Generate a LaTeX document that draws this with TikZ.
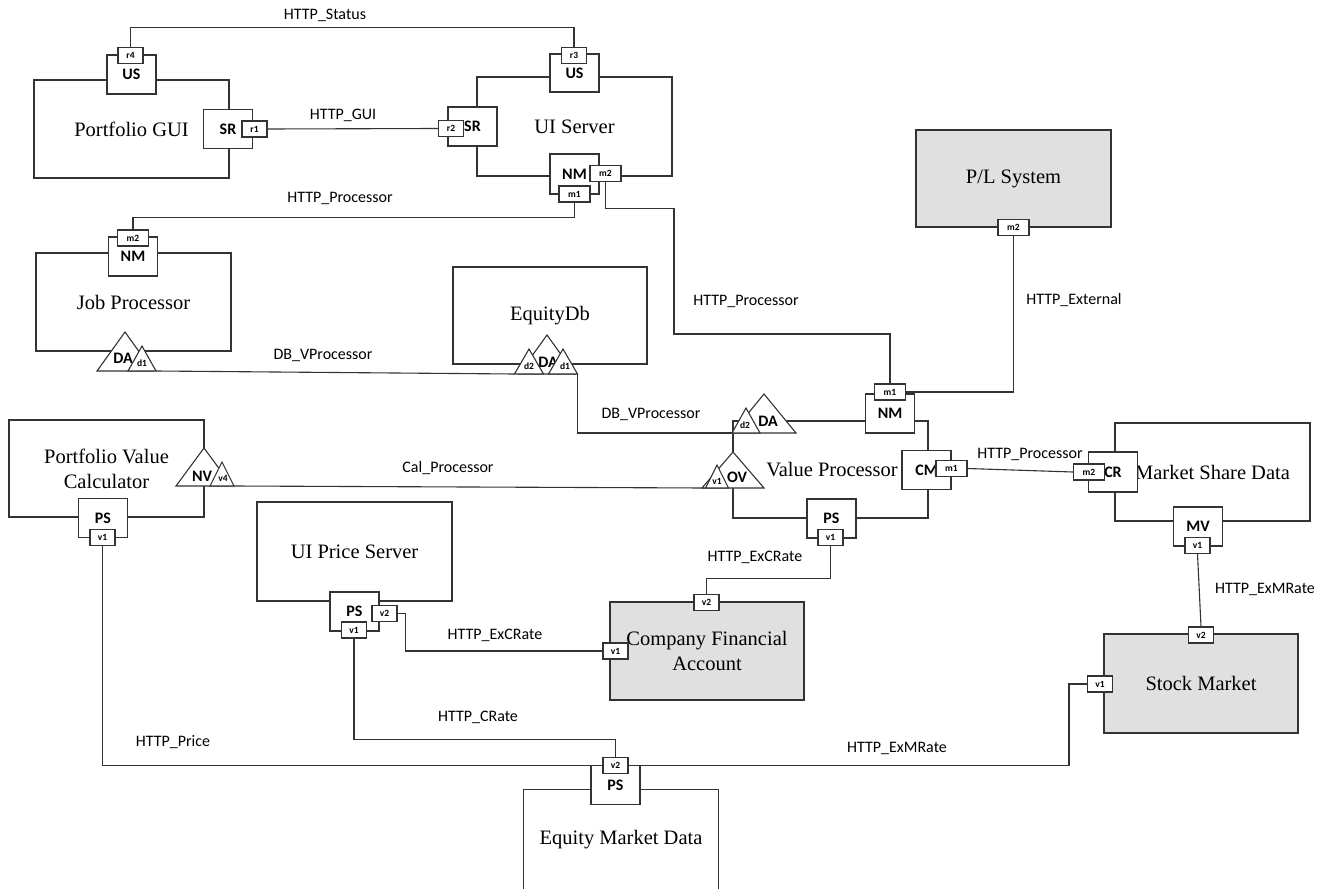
\documentclass[tikz,border=0pt]{standalone}
\usepackage{fontspec}
\setmainfont{Liberation Serif}
\newfontfamily\calfont{Carlito}
\newcommand\mytri[4]{\draw[tri] (#1,#2) -- ++(#3,#4) -- ++({-2*#3},0) -- cycle;}
\tikzset{
 ln/.style={draw=black!80, line width=1.1pt},
 comp/.style={ln, inner sep=0pt, minimum width=195pt, minimum height=98pt, align=center, font=\fontsize{20.5}{25}\selectfont},
 ext/.style={comp, fill=black!12},
 port/.style={ln, fill=white, inner sep=0pt, minimum width=49pt, minimum height=39pt, font=\calfont\bfseries\fontsize{16}{18}\selectfont},
 tag/.style={ln, fill=white, inner sep=0pt, minimum width=25pt, minimum height=16pt, font=\calfont\bfseries\fontsize{9.5}{10}\selectfont},
 wtag/.style={tag, minimum width=31pt},
 conn/.style={ln},
 clab/.style={font=\calfont\fontsize{16}{18}\selectfont, inner sep=0pt},
 tri/.style={ln, fill=white, line join=miter},
 blab/.style={font=\calfont\bfseries\fontsize{16}{18}\selectfont, inner sep=0pt},
 slab/.style={font=\calfont\bfseries\fontsize{9.5}{10}\selectfont, inner sep=0pt},
}
\begin{document}
\begin{tikzpicture}[x=1pt,y=-1pt]
\fill[white] (0,0) rectangle (1332,888);
\useasboundingbox (0,0) rectangle (1332,888);

% components
\node[comp] (pgui) at (131.5,129) {Portfolio GUI};
\node[comp, minimum height=99pt] (uis) at (574.5,126.5) {UI Server};
\node[comp] (job) at (133.5,302) {Job Processor};
\node[comp, minimum width=194pt, minimum height=97pt] (edb) at (550,315.5) {EquityDb};
\node[ext, minimum height=97pt] (pl) at (1013.5,178.5) {P/L System};
\node[comp, minimum height=97pt] (pvc) at (106.5,468.5) {Portfolio Value\\Calculator};
\node[comp, minimum height=97pt] (vp) at (830.5,469.5) {};
\node[font=\fontsize{20.5}{25}\selectfont, inner sep=0pt] (vplab) at (832,470) {Value Processor};
\node[comp] (msd) at (1212.5,472) {Market Share Data};
\node[comp, minimum height=99pt] (uips) at (354.5,551.5) {UI Price Server};
\node[ext, minimum width=194pt] (cfa) at (707,651) {Company Financial\\Account};
\node[ext, minimum width=194pt, minimum height=99pt] (sm) at (1201,683.5) {Stock Market};
\node[inner sep=0pt, minimum width=194pt, minimum height=100pt, font=\fontsize{20.5}{25}\selectfont] (emd) at (621,840) {Equity Market Data};
\draw[ln] (emd.south west) -- (emd.north west) -- (emd.north east) -- (emd.south east);

% connector corner coordinates
\coordinate (hpA) at (674,334);
\coordinate (jd1r) at (156,371);
\coordinate (ed2l) at (514.5,374);
\coordinate (ed1r) at (577.5,374);
\coordinate (vd2l) at (732,433);
\coordinate (v4r) at (234,486);
\coordinate (ov1l) at (705.5,488);

% ports
\node[port] (pgus) at (131.5,74.5) {US};
\node[tag] (r4) at (130.5,55.5) {r4};
\node[port] (pgsr) at (228,129) {SR};
\node[tag] (r1) at (254.5,129) {r1};
\node[port, minimum height=38pt] (uius) at (574.5,73) {US};
\node[tag] (r3) at (574,55.5) {r3};
\node[port] (uisr) at (472.5,126.5) {SR};
\node[tag] (r2) at (451,128.5) {r2};
\node[port, minimum height=40pt] (uinm) at (574.5,174) {NM};
\node[wtag] (uim2) at (605.5,173.5) {m2};
\node[wtag] (uim1) at (574.5,194) {m1};
\node[port] (jnm) at (133,256.5) {NM};
\node[wtag] (jm2) at (133,238) {m2};
\node[port] (vpnm) at (890,413.5) {NM};
\node[wtag] (vpm1) at (890,392) {m1};
\node[port] (vpcm) at (926.5,470) {CM};
\node[wtag] (cmm1) at (951.5,468.5) {m1};
\node[port] (vpps) at (831.5,518.5) {PS};
\node[tag] (vpv1) at (830.5,537.5) {v1};
\node[port, minimum height=40pt] (mscr) at (1113,472) {CR};
\node[wtag] (crm2) at (1089,472) {m2};
\node[port] (msmv) at (1198,526.5) {MV};
\node[tag] (mvv1) at (1197.5,545.5) {v1};
\node[wtag] (plm2) at (1013.5,227.5) {m2};
\node[tag] (cfav2) at (706.5,602.5) {v2};
\node[tag] (cfav1) at (615.5,651) {v1};
\node[tag] (smv2) at (1201,635) {v2};
\node[tag] (smv1) at (1100,684) {v1};
\node[port] (uipsps) at (354.5,611.5) {PS};
\node[tag] (uipsv2) at (384.5,613.5) {v2};
\node[tag] (uipsv1) at (354,630) {v1};
\node[port] (pvcps) at (103,518) {PS};
\node[tag] (pvcv1) at (102.5,537.5) {v1};
\node[port] (emdps) at (615.5,785) {PS};
\node[tag] (emdv2) at (615.5,765.5) {v2};

% connectors
\draw[conn] (r4.north) -- ++(0,-19) -| (r3.north);
\draw[conn] (r1.east) -- (r2.west);
\draw[conn] (uim1.south) -- ++(0,15) -| (jm2.north);
\draw[conn] (uim2.south) -- ++(0,26) -| (hpA) -| (vpm1.north);
\draw[conn] (plm2.south) |- (vpm1.east);
\draw[conn] (jd1r) -- (ed2l);
\draw[conn] (ed1r) |- (vd2l);
\draw[conn] (v4r) -- (ov1l);
\draw[conn] (cmm1.east) -- (crm2.west);
\draw[conn] (mvv1.south) -- (smv2.north);
\draw[conn] (vpv1.south) -- ++(0,32) -| (cfav2.north);
\draw[conn] (uipsv2.east) -- ++(8,0) |- (cfav1.west);
\draw[conn] (uipsv1.south) -- ++(0,101) -| (emdv2.north);
\draw[conn] (pvcv1.south) |- (emdv2.west);
\draw[conn] (smv1.west) -- ++(-18,0) |- (emdv2.east);

% triangles: Job Processor
\mytri{125}{332}{28}{39}
\node[blab] (jda) at (123,358) {DA};
\mytri{142}{346}{14}{25}
\node[slab] (jd1) at (142,363) {d1};
% EquityDb
\mytri{547}{335}{28}{39}
\node[blab] (eda) at (548,362) {DA};
\mytri{529}{349}{14.5}{25}
\node[slab] (ed2) at (529,366) {d2};
\mytri{563}{349}{14.5}{25}
\node[slab] (ed1) at (565,366) {d1};
% Value Processor DA
\mytri{764}{394}{32}{39}
\node[blab] (vda) at (768,421) {DA};
\mytri{746}{408}{14}{25}
\node[slab] (vd2) at (745,425) {d2};
% Portfolio Value Calculator NV
\mytri{204}{448}{28}{38}
\node[blab] (pnv) at (202,476) {NV};
\mytri{222}{462}{12}{24}
\node[slab] (pv4) at (223,478) {v4};
% Value Processor OV
\mytri{733}{452}{31}{36}
\node[blab] (vov) at (737,477) {OV};
\mytri{717}{465}{11.5}{23}
\node[slab] (vv1) at (717,481) {v1};

% connector labels
\node[clab] (l1) at (325,15) {HTTP\_Status};
\node[clab] (l2) at (343,115) {HTTP\_GUI};
\node[clab] (l3) at (340,198) {HTTP\_Processor};
\node[clab] (l4) at (746,301) {HTTP\_Processor};
\node[clab] (l5) at (1074,300) {HTTP\_External};
\node[clab] (l6) at (323,355) {DB\_VProcessor};
\node[clab] (l7) at (651,414) {DB\_VProcessor};
\node[clab] (l8) at (448,468) {Cal\_Processor};
\node[clab] (l9) at (1030,454) {HTTP\_Processor};
\node[clab] (l10) at (755,557) {HTTP\_ExCRate};
\node[clab] (l11) at (495,635) {HTTP\_ExCRate};
\node[clab] (l12) at (1265,589) {HTTP\_ExMRate};
\node[clab] (l13) at (897,748) {HTTP\_ExMRate};
\node[clab] (l14) at (478,717) {HTTP\_CRate};
\node[clab] (l15) at (173,742) {HTTP\_Price};
\end{tikzpicture}
\end{document}
